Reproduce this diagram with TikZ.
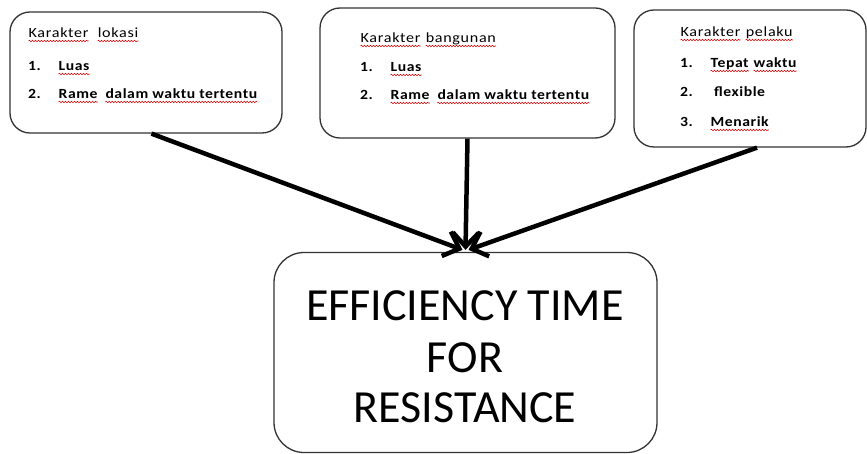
\documentclass[tikz,border=0pt]{standalone}
\usepackage{fontspec}
\setmainfont{Carlito}
\newfontfamily\hfont[FakeStretch=1.15,LetterSpace=5]{Carlito}
\newfontfamily\ifont[FakeStretch=1.12,LetterSpace=4]{Carlito}
\usetikzlibrary{arrows.meta,calc,decorations.pathmorphing}
\newcommand\sq[1]{\tikz[baseline=(w.base)]{\node[inner sep=0pt,anchor=base west] (w) {#1};
  \draw[red!85!black,line width=0.55pt,decorate,decoration={snake,segment length=3pt,amplitude=0.7pt}]
   ([yshift=-3pt]w.base west) -- ([yshift=-3pt]w.base east);}}
\begin{document}
\begin{tikzpicture}[x=1pt,y=-1pt,
  box/.style={draw=black!80,line width=1.3pt,rounded corners=20pt,inner sep=0pt},
  bigbox/.style={draw=black!80,line width=1.3pt,rounded corners=30pt,inner sep=0pt},
  txt/.style={anchor=base west,inner sep=0pt,font=\fontsize{14}{16}\hfont},
  itm/.style={anchor=base west,inner sep=0pt,font=\fontsize{14}{16}\ifont\bfseries},
  big/.style={anchor=base,inner sep=0pt,font=\fontsize{46}{51}\selectfont},
  conn/.style={line width=4.5pt,-{Straight Barb[length=14pt,width=26pt]}}]
\useasboundingbox (0,0) rectangle (867,454);
\node[box,minimum width=272pt,minimum height=121pt] (b1) at (146,72.5) {};
\node[box,minimum width=295pt,minimum height=130pt] (b2) at (467.5,73) {};
\node[box,minimum width=232pt,minimum height=137pt] (b3) at (750,78.5) {};
\node[bigbox,minimum width=383pt,minimum height=200pt] (bot) at (465.5,352.5) {};
% box 1
\node[txt] (h1) at (28,38) {\sq{Karakter}\hspace{0.6em}\sq{lokasi}};
\node[itm] (n11) at (28,71) {1.};
\node[itm] (t11) at (58,71) {\sq{Luas}};
\node[itm] (n12) at (28,99) {2.};
\node[itm] (t12) at (58,99) {\sq{Rame}\hspace{0.5em}\sq{dalam waktu tertentu}};
% box 2
\node[txt] (h2) at (360,43) {\sq{Karakter} \sq{bangunan}};
\node[itm] (n21) at (360,72) {1.};
\node[itm] (t21) at (390,72) {\sq{Luas}};
\node[itm] (n22) at (360,100) {2.};
\node[itm] (t22) at (390,100) {\sq{Rame}\hspace{0.5em}\sq{dalam waktu tertentu}};
% box 3
\node[txt] (h3) at (680,37) {\sq{Karakter} \sq{pelaku}};
\node[itm] (n31) at (680,68) {1.};
\node[itm] (t31) at (710,68) {\sq{Tepat} \sq{waktu}};
\node[itm] (n32) at (680,97) {2.};
\node[itm] (t32) at (714,97) {flexible};
\node[itm] (n33) at (680,127) {3.};
\node[itm] (t33) at (710,127) {\sq{Menarik}};
% bottom
\node[big] (l1) at (465,320) {EFFICIENCY TIME};
\node[big] (l2) at (465,372) {FOR};
\node[big] (l3) at (465,422) {RESISTANCE};
% connectors
\draw[conn] ($(b1.south west)!0.52!(b1.south east)$) -- ($(bot.north)+(-3,-2)$);
\draw[conn] (b2.south) -- ($(bot.north)+(0,-2)$);
\draw[conn] ($(b3.south west)!0.53!(b3.south east)$) -- ($(bot.north)+(3,-2)$);
\end{tikzpicture}
\end{document}
